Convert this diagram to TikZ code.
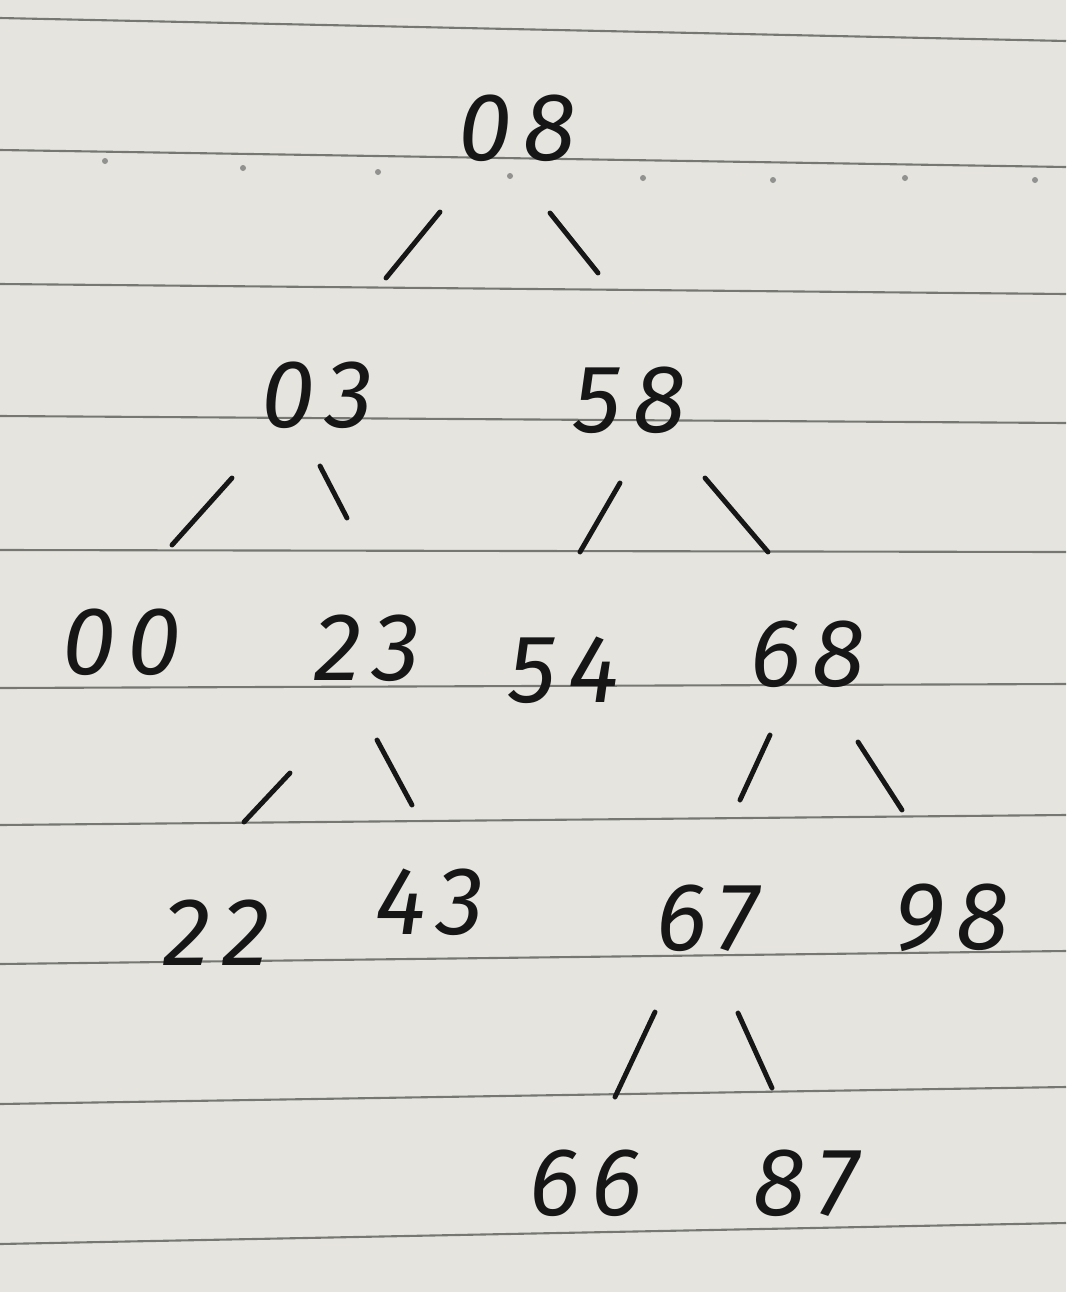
\documentclass[tikz,border=0pt]{standalone}
\usepackage{fontspec}
\newfontfamily\hand{Fira Sans}[LetterSpace=12]
\usetikzlibrary{calc}
\definecolor{paper}{RGB}{229,228,223}
\definecolor{rule}{RGB}{118,118,115}
\definecolor{ink}{RGB}{22,22,22}
\tikzset{
  num/.style={text=ink, inner sep=0pt, font=\hand\itshape\fontsize{55}{60}\selectfont},
  edge/.style={draw=ink, line width=2.8pt, line cap=round},
  ruled/.style={draw=rule, line width=1.2pt},
  speck/.style={fill=rule!80}
}
\begin{document}
\begin{tikzpicture}[x=0.02cm,y=-0.02cm]
  % paper
  \fill[paper] (0,0) rectangle (1066,1292);
  \useasboundingbox (0,0) rectangle (1066,1292);
  % ruled lines
  \foreach \a/\b in {18/41,150/167,284/294,416/423,550/552,688/684,825/815,964/951,1104/1087,1244/1223}
    \draw[ruled] (0,\a) -- (1066,\b);
  % dots under second line
  \foreach \px/\py in {105/161,243/168,378/172,510/176,643/178,773/180,905/178,1035/180}
    \fill[speck] (\px,\py) circle (3);
  % nodes
  \node[num] (n08) at (517,128) {08};
  \node[num] (n03) at (317,395) {03};
  \node[num] (n58) at (630,400) {58};
  \node[num] (n00) at (122,642) {00};
  \node[num] (n23) at (367,648) {23};
  \node[num] (n54) at (564,670) {54};
  \node[num] (n68) at (808,654) {68};
  \node[num] (n22) at (217,933) {22};
  \node[num] (n43) at (430,902) {43};
  \node[num] (n67) at (708,918) {67};
  \node[num] (n98) at (952,918) {98};
  \node[num] (n66) at (586,1183) {66};
  \node[num] (n87) at (806,1183) {87};
  % connectors
  \draw[edge] ($(n08)+(-77,84)$) -- ($(n03)+(69,-117)$);
  \draw[edge] ($(n08)+(33,85)$) -- ($(n58)+(-32,-127)$);
  \draw[edge] ($(n03)+(-85,83)$) -- ($(n00)+(50,-97)$);
  \draw[edge] ($(n03)+(3,71)$) -- ($(n23)+(-20,-130)$);
  \draw[edge] ($(n58)+(-10,83)$) -- ($(n54)+(16,-118)$);
  \draw[edge] ($(n58)+(75,78)$) -- ($(n68)+(-40,-102)$);
  \draw[edge] ($(n23)+(-77,125)$) -- ($(n22)+(27,-111)$);
  \draw[edge] ($(n23)+(10,92)$) -- ($(n43)+(-18,-97)$);
  \draw[edge] ($(n68)+(-38,81)$) -- ($(n67)+(32,-118)$);
  \draw[edge] ($(n68)+(50,88)$) -- ($(n98)+(-50,-108)$);
  \draw[edge] ($(n67)+(-53,94)$) -- ($(n66)+(29,-86)$);
  \draw[edge] ($(n67)+(30,95)$) -- ($(n87)+(-34,-95)$);
\end{tikzpicture}
\end{document}
